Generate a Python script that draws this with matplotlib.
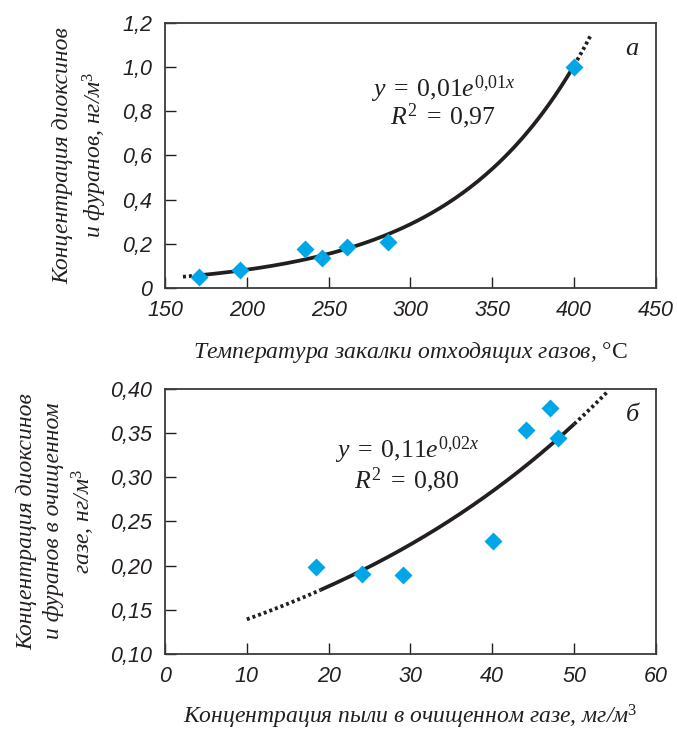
import matplotlib
matplotlib.use("Agg")
import matplotlib.pyplot as plt
from matplotlib.ticker import FuncFormatter
import numpy as np

# panel "а": quench temperature of off-gas vs PCDD/F concentration
temp_c = [171, 196, 235.5, 246, 261, 286, 400]
conc_a = [0.05, 0.08, 0.175, 0.137, 0.186, 0.208, 1.0]
trend_a_solid = (170, 400)
trend_a_dotted = (161, 410)
xticks_a = [150, 200, 250, 300, 350, 400, 450]
yticks_a = [0, 0.2, 0.4, 0.6, 0.8, 1.0, 1.2]

# panel "б": dust in cleaned gas vs PCDD/F concentration
dust_mg = [18.5, 24.1, 29.1, 40.1, 44.1, 47.1, 48.0]
conc_b = [0.199, 0.190, 0.189, 0.228, 0.353, 0.379, 0.344]
trend_b_solid = (19, 50)
trend_b_dotted = (10, 54)
xticks_b = [0, 10, 20, 30, 40, 50, 60]
yticks_b = [0.10, 0.15, 0.20, 0.25, 0.30, 0.35, 0.40]

INK = "#231f20"
BLUE = "#00a6e6"
SERIF = "Liberation Serif"

plt.rcParams["font.family"] = "Liberation Sans"
plt.rcParams["mathtext.fontset"] = "custom"
plt.rcParams["mathtext.rm"] = "Liberation Serif:style=normal"
plt.rcParams["mathtext.it"] = "Liberation Serif:style=italic"
plt.rcParams["mathtext.bf"] = "Liberation Serif:weight=bold"
plt.rcParams["text.color"] = INK


def draw_panel(ax, x, y, solid, dotted):
    # exponential trendline fitted the same way a spreadsheet does it
    b, ln_a = np.polyfit(x, np.log(y), 1)

    def f(t):
        return np.exp(ln_a + b * t)

    xs = np.linspace(solid[0], solid[1], 200)
    ax.plot(xs, f(xs), color=INK, lw=2.7, solid_capstyle="butt", zorder=2)
    for lo, hi in [(dotted[0], solid[0]), (solid[1], dotted[1])]:
        xd = np.linspace(lo, hi, 60)
        ax.plot(xd, f(xd), color=INK, lw=2.7, ls=(0, (0.8, 0.8)), zorder=2)
    ax.plot(x, y, "D", color=BLUE, ms=9, mec="none", zorder=3)

    ax.tick_params(direction="in", length=8, width=1, pad=9, labelsize=15.5,
                   colors=INK, top=False, right=False)
    for side in ax.spines.values():
        side.set_linewidth(1.3)
        side.set_color("#3a3a3a")


def italic_ticks(ax):
    plt.setp(ax.get_xticklabels() + ax.get_yticklabels(), fontstyle="italic")


fig = plt.figure(figsize=(6.77, 7.32), dpi=100)
ax1 = fig.add_axes([0.2437, 0.6066, 0.7253, 0.3624])
ax2 = fig.add_axes([0.2437, 0.1066, 0.7253, 0.3620])

draw_panel(ax1, temp_c, conc_a, trend_a_solid, trend_a_dotted)
ax1.set_xlim(150, 450)
ax1.set_ylim(0, 1.2)
ax1.set_xticks(xticks_a)
ax1.set_yticks(yticks_a)
ax1.yaxis.set_major_formatter(
    FuncFormatter(lambda v, _: "0" if v == 0 else f"{v:.1f}".replace(".", ",")))
italic_ticks(ax1)
ax1.text(320, 0.865, r"$y\;=\;0{,}01e^{0{,}01x}$", ha="center", va="baseline", fontsize=18.5)
ax1.text(320, 0.738, r"$R^2\;=\;0{,}97$", ha="center", va="baseline", fontsize=18.5)
ax1.text(0.965, 0.9, "а", transform=ax1.transAxes, ha="right", va="center",
         fontsize=19, family=SERIF, style="italic")

draw_panel(ax2, dust_mg, conc_b, trend_b_solid, trend_b_dotted)
ax2.set_xlim(0, 60)
ax2.set_ylim(0.10, 0.40)
ax2.set_xticks(xticks_b)
ax2.set_yticks(yticks_b)
ax2.yaxis.set_major_formatter(FuncFormatter(lambda v, _: f"{v:.2f}".replace(".", ",")))
italic_ticks(ax2)
ax2.text(29.6, 0.322, r"$y\;=\;0{,}11e^{0{,}02x}$", ha="center", va="baseline", fontsize=18.5)
ax2.text(29.6, 0.288, r"$R^2\;=\;0{,}80$", ha="center", va="baseline", fontsize=18.5)
ax2.text(0.965, 0.9, "б", transform=ax2.transAxes, ha="right", va="center",
         fontsize=19, family=SERIF, style="italic")

# axis titles
lab = dict(fontsize=17, family=SERIF, style="italic", ha="center", va="center")
fig.text(0.6056, 0.519, "Температура закалки отходящих газов, $\\mathrm{°C}$", **lab)
fig.text(0.119, 0.788, "Концентрация диоксинов\nи фуранов, нг/м$^3$",
         rotation=90, linespacing=1.35, **lab)
fig.text(0.6056, 0.02, "Концентрация пыли в очищенном газе, мг/м$^3$", **lab)
fig.text(0.084, 0.288, "Концентрация диоксинов\nи фуранов в очищенном\nгазе, нг/м$^3$",
         rotation=90, linespacing=1.3, **lab)

fig.savefig("out.png", dpi=100)
